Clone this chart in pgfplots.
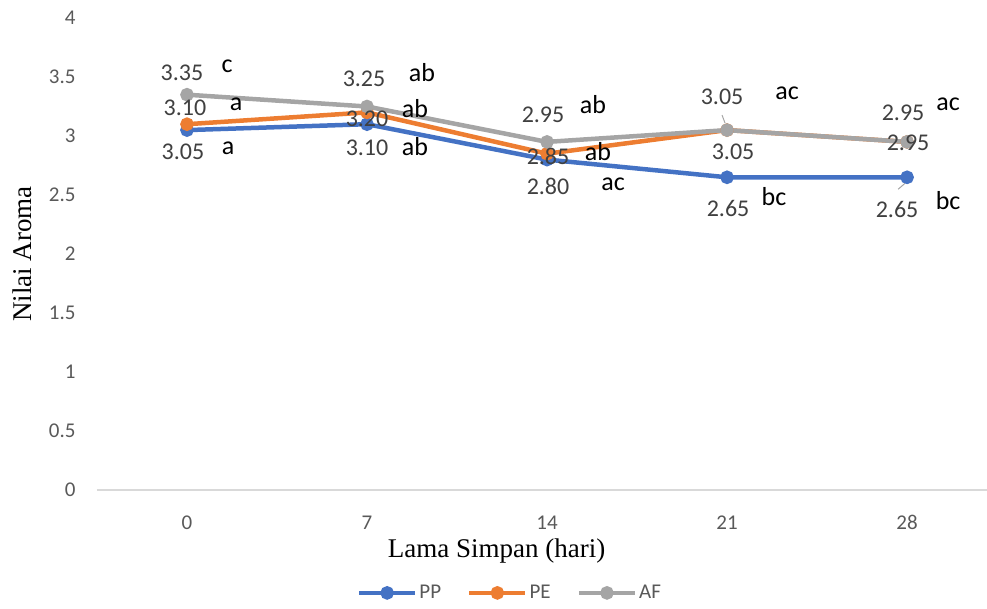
\documentclass[border=0pt]{standalone}
\usepackage{fontspec}
\setmainfont{Carlito}
\newfontfamily\timesf{Liberation Serif}
\usepackage{pgfplots}
\usepackage{pgfplotstable}
\pgfplotsset{compat=1.18}

\definecolor{cPP}{HTML}{4472C4}
\definecolor{cPE}{HTML}{ED7D31}
\definecolor{cAF}{HTML}{A5A5A5}
\definecolor{tickgray}{HTML}{595959}
\definecolor{lblgray}{HTML}{404040}
\definecolor{axgray}{HTML}{D9D9D9}

% values with label offsets (dx, dy in pt)
\pgfplotstableread{
x y dx dy
0 3.05 -4 -22
1 3.10 0 -24
2 2.80 1 -27
3 2.65 1 -31
4 2.65 -10 -32
}\pp
\pgfplotstableread{
x y dx dy
0 3.10 -2 16
1 3.20 0 -6
2 2.85 1 -3
3 3.05 6 -22
4 2.95 1 -1
}\pe
\pgfplotstableread{
x y dx dy
0 3.35 -5 22
1 3.25 -3 28
2 2.95 -4 27
3 3.05 -5 33
4 2.95 -4 29
}\af
% significance letters
\pgfplotstableread{
x y g lx ly
0 3.05 a 41 -18
1 3.10 ab 48 -22
2 2.80 ac 66 -25
3 2.65 bc 47 -19
4 2.65 bc 41 -23
0 3.10 a 49 20
1 3.20 ab 48 4
2 2.85 ab 51 2
0 3.35 c 40 28
1 3.25 ab 55 34
2 2.95 ab 46 37
3 3.05 ac 60 37
4 2.95 ac 41 38
}\letters

\pgfplotsset{
  valuelabels/.style={forget plot, draw=none, mark=none,
    point meta=y,
    visualization depends on={\thisrow{dx}\as\dx},
    visualization depends on={\thisrow{dy}\as\dy},
    nodes near coords={\pgfmathprintnumber[fixed,fixed zerofill,precision=2]{\pgfplotspointmeta}},
    every node near coord/.style={anchor=center, xshift=\dx pt, yshift=\dy pt,
      font=\fontsize{24}{27}\selectfont, text=lblgray}},
}

\begin{document}
\begin{tikzpicture}
\begin{axis}[
  name=ax,
  scale only axis,
  width=890pt, height=472pt,
  xmin=-0.5, xmax=4.444,
  ymin=0, ymax=4,
  clip=false,
  axis x line*=bottom,
  axis y line*=left,
  x axis line style={draw=axgray, line width=1.2pt},
  y axis line style={draw=none},
  major tick length=0pt,
  xtick={0,1,2,3,4},
  xticklabels={0,7,14,21,28},
  ytick={0,0.5,...,4},
  /pgf/number format/assume math mode=true,
  tick label style={font=\fontsize{21}{25}\selectfont, text=tickgray},
  yticklabel style={xshift=-18pt},
  xticklabel style={yshift=-22pt},
  xlabel={\timesf Lama Simpan (hari)},
  ylabel={\timesf Nilai Aroma},
  label style={font=\fontsize{27}{30}\selectfont, text=black},
  xlabel style={at={(0.449,-0.129)}, anchor=center},
  ylabel style={at={(-0.0843,0.5)}, anchor=center},
  legend style={at={(0.464,-0.218)}, anchor=center, draw=none, fill=none,
    font=\fontsize{21}{24}\selectfont, text=tickgray,
    legend columns=3,
    /tikz/every even column/.append style={column sep=24pt}},
  legend image code/.code={%
    \draw[mark repeat=2,mark phase=2,#1] plot coordinates {(0pt,0pt) (28pt,0pt) (56pt,0pt)};},
  every axis plot/.append style={line width=4.5pt, mark=*, mark size=4.5pt,
    mark options={solid}},
]
\addplot[cPP] table[x=x,y=y] {\pp};
\addplot[cPE] table[x=x,y=y] {\pe};
\addplot[cAF] table[x=x,y=y] {\af};
\legend{PP,PE,AF}

% value labels
\addplot[valuelabels] table[x=x,y=y] {\pp};
\addplot[valuelabels] table[x=x,y=y] {\pe};
\addplot[valuelabels] table[x=x,y=y] {\af};

% letters
\addplot[forget plot, draw=none, mark=none,
  point meta=explicit symbolic,
  visualization depends on={\thisrow{lx}\as\lx},
  visualization depends on={\thisrow{ly}\as\ly},
  nodes near coords,
  every node near coord/.style={anchor=center, xshift=\lx pt, yshift=\ly pt,
    font=\fontsize{26}{29}\selectfont, text=black},
] table[x=x,y=y,meta=g] {\letters};

% leader lines
\draw[cAF, line width=1pt] ([xshift=-5pt,yshift=15pt]axis cs:3,3.05) -- ([xshift=-2pt,yshift=7pt]axis cs:3,3.05);
\draw[cAF, line width=1pt] ([xshift=-9pt,yshift=-12pt]axis cs:4,2.65) -- ([xshift=-2pt,yshift=-6pt]axis cs:4,2.65);
\end{axis}
\pgfresetboundingbox
\path[use as bounding box] ([xshift=-97pt,yshift=-118pt]ax.south west) rectangle ([yshift=18pt]ax.north east);
\end{tikzpicture}
\end{document}
